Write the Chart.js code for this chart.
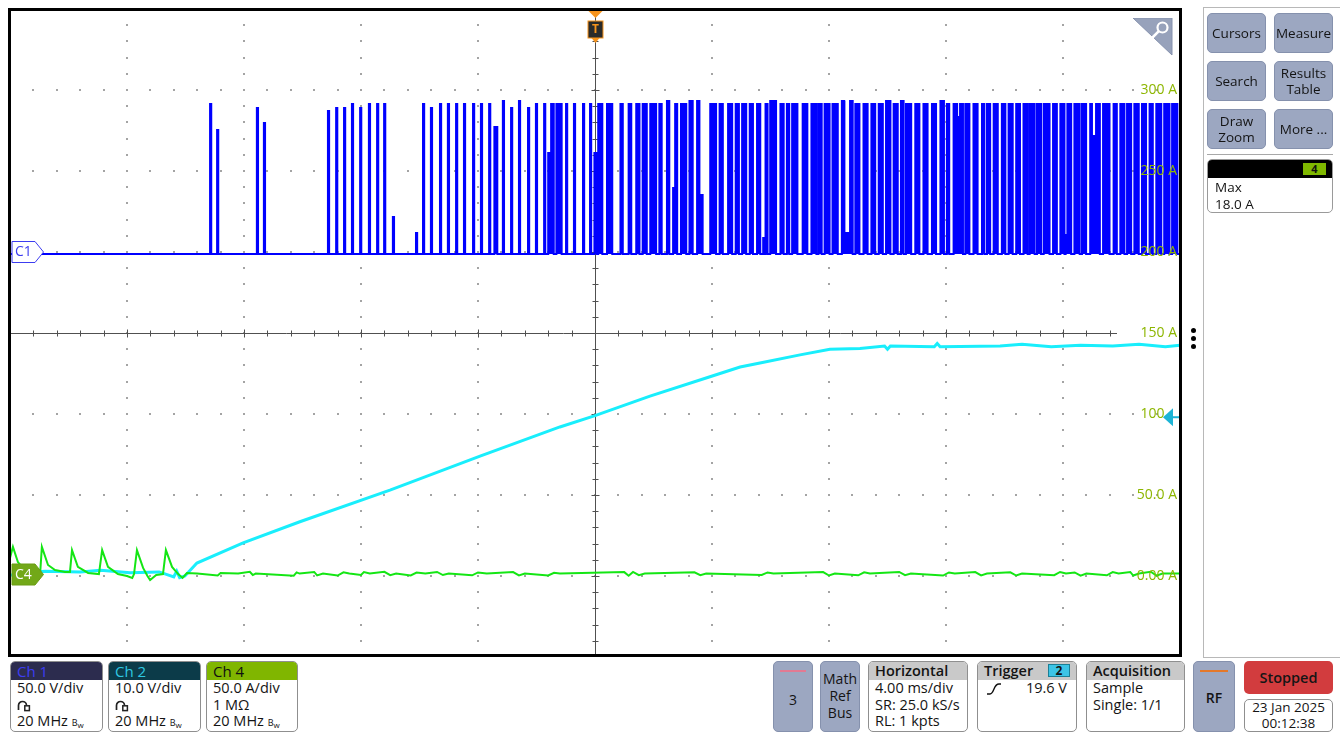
<!DOCTYPE html>
<html>
<head>
<meta charset="utf-8">
<title>Scope capture</title>
<script src="https://cdn.jsdelivr.net/npm/chart.js@4.4.1/dist/chart.umd.min.js"></script>
<style>
html, body { margin: 0; padding: 0; background: #fff; }
body { position: relative; width: 1340px; height: 734px; overflow: hidden;
       font-family: "Open Sans", "Noto Sans", sans-serif; color: #141414; }
#scope { position: absolute; left: 10px; top: 9px; }
#frame { position: absolute; left: 8px; top: 8px; width: 1174px; height: 649px;
         box-sizing: border-box; border: 3px solid #000; pointer-events: none; }
.abs { position: absolute; }
#side { left: 1203px; top: 7px; width: 137px; height: 651px; box-sizing: border-box;
        border: 1px solid #b8b8b8; border-right: none; }
.btn { position: absolute; box-sizing: border-box; background: #9ca7c1; border: 1px solid #8591ad;
       border-radius: 5px; display: flex; align-items: center; justify-content: center;
       text-align: center; font-size: 13.5px; line-height: 16px; color: #141414; }
.meas { left: 1207px; top: 159px; width: 126px; height: 54px; box-sizing: border-box;
        border: 1px solid #9a9a9a; border-radius: 5px; overflow: hidden; background: #fff; }
.meas .hd { height: 18px; background: #000; position: relative; }
.meas .tag { position: absolute; right: 6px; top: 3px; width: 23px; height: 12px; background: #7fb800;
             font-size: 11px; line-height: 12px; font-weight: 700; text-align: center; color: #111; }
.meas .ln { font-size: 13.5px; line-height: 17px; padding-left: 7px; }
.cbox { position: absolute; top: 661px; height: 71px; box-sizing: border-box; border: 1px solid #8f8f8f;
        border-radius: 5px; overflow: hidden; background: #fff; }
.cbox .hd { height: 18px; font-size: 15px; line-height: 18px; padding-left: 6px; position: relative; }
.cbox .ln { font-size: 14.5px; line-height: 16.5px; padding-left: 6px; white-space: nowrap; height: 16.5px; }
.gray { background: #c9c9c9; color: #141414; font-weight: 600; font-size: 14.5px !important; }
.bw { font-size: 9px; }
.bw sub { font-size: 8px; vertical-align: -2px; }
.tile { position: absolute; top: 661px; height: 71px; box-sizing: border-box; background: #9ca7c1;
        border: 1px solid #8591ad; border-radius: 5px; text-align: center; font-size: 14px; color: #141414; }
.tile .bar { position: absolute; left: 6px; right: 6px; top: 8px; height: 2px; }
.dot { position: absolute; width: 5px; height: 5px; border-radius: 50%; background: #000; left: 1191px; }
</style>
</head>
<body>
<canvas id="scope" width="1170" height="648"></canvas>
<div id="frame"></div>

<!-- zoom handle in the upper right corner of the graticule -->
<svg class="abs" style="left:1133px;top:18px" width="40" height="38">
  <polygon points="0,0 39,0 39,37" fill="#97a2bb" stroke="#8591ad" stroke-width="1"/>
  <circle cx="29.5" cy="9.5" r="5" fill="none" stroke="#fff" stroke-width="2.2"/>
  <line x1="25.8" y1="13.2" x2="19" y2="20" stroke="#fff" stroke-width="2.6"/>
</svg>

<div class="dot" style="top:328px"></div>
<div class="dot" style="top:336px"></div>
<div class="dot" style="top:344px"></div>

<!-- side panel -->
<div id="side" class="abs"></div>
<div class="btn" style="left:1207px;top:13px;width:59px;height:40px">Cursors</div>
<div class="btn" style="left:1274px;top:13px;width:59px;height:40px">Measure</div>
<div class="btn" style="left:1207px;top:61px;width:59px;height:40px">Search</div>
<div class="btn" style="left:1274px;top:61px;width:59px;height:40px">Results<br>Table</div>
<div class="btn" style="left:1207px;top:109px;width:59px;height:40px">Draw<br>Zoom</div>
<div class="btn" style="left:1274px;top:109px;width:59px;height:40px">More ...</div>
<div class="abs" style="left:1207px;top:154px;width:126px;height:1px;background:#a8a8a8"></div>
<div class="abs meas">
  <div class="hd"><div class="tag">4</div></div>
  <div class="ln" style="margin-top:1px">Max</div>
  <div class="ln">18.0 A</div>
</div>

<!-- channel badges -->
<div class="cbox" style="left:10px;width:93px">
  <div class="hd" style="background:#2c2c4e;color:#3d3df2">Ch 1</div>
  <div class="ln">50.0 V/div</div>
  <div class="ln"><svg width="14" height="13" style="vertical-align:-2px"><path d="M1.5 11 V6.5 A4 4 0 0 1 9.5 6.5" fill="none" stroke="#222" stroke-width="1.7"/><rect x="7.8" y="6.8" width="4.6" height="4.8" fill="none" stroke="#222" stroke-width="1.5"/></svg></div>
  <div class="ln">20 MHz <span class="bw">B<sub>w</sub></span></div>
</div>
<div class="cbox" style="left:108px;width:93px">
  <div class="hd" style="background:#0c3b49;color:#2ec8e2">Ch 2</div>
  <div class="ln">10.0 V/div</div>
  <div class="ln"><svg width="14" height="13" style="vertical-align:-2px"><path d="M1.5 11 V6.5 A4 4 0 0 1 9.5 6.5" fill="none" stroke="#222" stroke-width="1.7"/><rect x="7.8" y="6.8" width="4.6" height="4.8" fill="none" stroke="#222" stroke-width="1.5"/></svg></div>
  <div class="ln">20 MHz <span class="bw">B<sub>w</sub></span></div>
</div>
<div class="cbox" style="left:206px;width:92px">
  <div class="hd" style="background:#80b600;color:#111">Ch 4</div>
  <div class="ln">50.0 A/div</div>
  <div class="ln">1 MΩ</div>
  <div class="ln">20 MHz <span class="bw">B<sub>w</sub></span></div>
</div>

<div class="tile" style="left:773px;width:40px"><div class="bar" style="background:#e27a93"></div><div style="margin-top:28px">3</div></div>
<div class="tile" style="left:820px;width:40px;line-height:17px"><div style="margin-top:8px">Math<br>Ref<br>Bus</div></div>
<div class="cbox" style="left:868px;width:100px">
  <div class="hd gray">Horizontal</div>
  <div class="ln">4.00 ms/div</div>
  <div class="ln">SR: 25.0 kS/s</div>
  <div class="ln">RL: 1 kpts</div>
</div>
<div class="cbox" style="left:977px;width:100px">
  <div class="hd gray">Trigger<div style="position:absolute;left:70px;top:2px;width:22px;height:13px;box-sizing:border-box;background:#3cc4e6;border:1px solid #1b7f96;font-size:12px;line-height:11px;text-align:center;font-weight:700">2</div></div>
  <div class="ln" style="position:relative"><svg width="16" height="14" style="position:absolute;left:8px;top:2px"><path d="M1 12 L4 12 Q6 12 8 7 Q10 2 13 2 L15 2" fill="none" stroke="#111" stroke-width="1.4"/></svg><span style="position:absolute;right:9px">19.6 V</span></div>
</div>
<div class="cbox" style="left:1086px;width:99px">
  <div class="hd gray">Acquisition</div>
  <div class="ln">Sample</div>
  <div class="ln">Single: 1/1</div>
</div>
<div class="tile" style="left:1193px;width:42px"><div class="bar" style="background:#e4782a"></div><div style="margin-top:26px;font-weight:600">RF</div></div>
<div class="abs" style="left:1244px;top:661px;width:89px;height:33px;background:#d23c3e;border-radius:5px;text-align:center;line-height:33px;font-size:14.5px;font-weight:600;color:#151515">Stopped</div>
<div class="abs" style="left:1244px;top:699px;width:89px;height:33px;box-sizing:border-box;border:1px solid #8f8f8f;border-radius:5px;text-align:center;font-size:13.5px;line-height:15.5px;padding-top:0px">23 Jan 2025<br>00:12:38</div>

<script>
// timebase: 4 ms/div, 10 divisions, trigger in the middle
const timeRangeMs = [-20, 20];
const msPerDiv = 4;

// channel vertical settings (units per division, ground position in divisions from centre)
const ch1PerDiv = 50, ch1PosDiv = 1;    // V
const ch2PerDiv = 10, ch2PosDiv = -3;   // V
const ch4PerDiv = 50, ch4PosDiv = -3;   // A
const triggerLevelV = 19.6;             // on Ch2

// Ch4 scale labels on the right edge
const ch4TickValues = [300, 250, 200, 150, 100, 50, 0];
const ch4TickLabels = ['300 A', '250 A', '200 A', '150 A', '100', '50.0 A', '0.00 A'];

// Ch1 gate pulses: [start ms, width ms, peak V], baseline ch1BaseV
const ch1BaseV = -1.2;
const c1Pulses = [
  [-13.16, 0.04, 91.4], [-12.92, 0.04, 75.3], [-11.56, 0.04, 88.9], [-11.32, 0.04, 79.6],
  [-9.13, 0.04, 87.0], [-8.85, 0.04, 88.9], [-8.58, 0.04, 88.9], [-8.31, 0.04, 91.4],
  [-8.03, 0.04, 88.9], [-7.73, 0.04, 91.4], [-7.45, 0.04, 91.4], [-7.21, 0.04, 91.4],
  [-6.91, 0.04, 21.6], [-6.12, 0.04, 11.7], [-5.88, 0.04, 91.4], [-5.61, 0.04, 88.9],
  [-5.30, 0.04, 91.4], [-5.03, 0.04, 91.4], [-4.75, 0.04, 91.4], [-4.48, 0.04, 91.4],
  [-4.17, 0.04, 91.4], [-3.90, 0.04, 91.4], [-3.62, 0.04, 91.4], [-3.44, 0.10, 77.2],
  [-3.15, 0.04, 93.2], [-2.87, 0.04, 88.9], [-2.60, 0.04, 93.2], [-2.29, 0.04, 88.9],
  [-2.02, 0.04, 91.4], [-1.74, 0.04, 91.4], [-1.60, 0.10, 61.1], [-1.50, 0.09, 91.4],
  [-1.32, 0.18, 91.4], [-0.99, 0.04, 91.4], [-0.72, 0.04, 91.4], [-0.41, 0.04, 91.4],
  [-0.17, 0.04, 91.4], [-0.02, 0.09, 61.1],
  [0.11, 0.14, 91.4], [0.41, 0.18, 91.4], [0.87, 0.08, 91.4], [1.15, 0.09, 91.4],
  [1.41, 0.11, 91.4], [1.63, 0.14, 91.4], [1.89, 0.20, 91.4], [2.20, 0.08, 91.4],
  [2.46, 0.08, 93.2], [2.67, 0.07, 39.5], [2.74, 0.07, 91.4], [2.94, 0.18, 91.4],
  [3.23, 0.11, 93.2], [3.49, 0.08, 93.2], [3.57, 0.11, 35.2], [3.94, 0.20, 91.4],
  [4.26, 0.11, 91.4], [4.55, 0.14, 91.4], [4.81, 0.11, 91.4], [5.03, 0.14, 91.4],
  [5.29, 0.11, 91.4], [5.54, 0.11, 91.4], [5.75, 0.06, 8.6], [5.83, 0.07, 91.4],
  [5.99, 0.20, 93.2], [6.34, 0.11, 91.4], [6.56, 0.08, 91.4], [6.74, 0.18, 91.4],
  [7.10, 0.16, 91.4], [7.40, 0.17, 91.4], [7.64, 0.11, 91.4], [7.85, 0.17, 91.4],
  [8.12, 0.18, 91.4], [8.44, 0.08, 93.2], [8.53, 0.19, 11.7], [8.72, 0.09, 93.2],
  [8.90, 0.14, 91.4], [9.18, 0.14, 91.4], [9.45, 0.13, 91.4], [9.70, 0.14, 91.4],
  [9.95, 0.15, 93.2], [10.21, 0.14, 91.4], [10.46, 0.09, 93.2], [10.63, 0.18, 91.4],
  [10.95, 0.14, 91.4], [11.23, 0.14, 91.4], [11.52, 0.14, 91.4], [11.81, 0.12, 93.2],
  [12.03, 0.08, 91.4], [12.26, 0.12, 91.4], [12.38, 0.10, 83.3], [12.48, 0.10, 91.4],
  [12.66, 0.14, 91.4], [12.94, 0.14, 91.4], [13.23, 0.08, 91.4], [13.40, 0.11, 91.4],
  [13.63, 0.14, 91.4], [13.91, 0.12, 91.4], [14.14, 0.14, 91.4], [14.40, 0.13, 91.4],
  [14.65, 0.14, 91.4], [14.86, 0.17, 91.4], [15.11, 0.14, 91.4], [15.34, 0.20, 91.4],
  [15.66, 0.13, 91.4], [15.91, 0.14, 91.4], [16.09, 0.06, 10.5], [16.15, 0.13, 91.4],
  [16.39, 0.18, 91.4], [16.65, 0.14, 91.4], [16.93, 0.06, 91.4], [16.99, 0.14, 71.6],
  [17.13, 0.13, 91.4], [17.37, 0.22, 91.4], [17.73, 0.11, 91.4], [17.96, 0.14, 91.4],
  [18.19, 0.14, 91.4], [18.44, 0.15, 91.4], [18.70, 0.14, 91.4], [18.96, 0.11, 91.4],
  [19.19, 0.17, 91.4], [19.46, 0.18, 91.4], [19.73, 0.18, 91.4]
];

// Ch2 ramp: [ms, V]
const c2Trace = [
  [-20.0, 0.1], [-19.5, 0.4], [-18.8, 0.6], [-17.6, 0.5], [-16.9, 0.7], [-15.9, 0.4],
  [-14.9, 0.5], [-14.4, -0.1], [-14.3, 0.6], [-14.2, -0.2], [-14.02, 0.0],
  [-13.61, 1.6], [-12.03, 4.1], [-10.09, 6.7], [-7.01, 10.6], [-3.93, 14.8], [-1.20, 18.4],
  [0.0, 19.8], [1.88, 22.2], [3.93, 24.6], [4.96, 25.8], [5.64, 26.3], [7.01, 27.3],
  [8.03, 28.0], [9.06, 28.1], [9.9, 28.4], [10.0, 28.0], [10.1, 28.4], [11.6, 28.3],
  [11.7, 28.7], [11.8, 28.3], [13.85, 28.4], [14.6, 28.6], [15.6, 28.3], [16.6, 28.5],
  [17.7, 28.4], [18.6, 28.6], [19.5, 28.3], [20.0, 28.5]
];

// Ch4 current: [ms, A]
const c4Trace = [
  [-20.00, 11.1], [-19.90, 18.0], [-19.73, 8.6], [-19.49, 3.7], [-19.15, 1.2], [-18.97, 1.5],
  [-18.91, 18.0], [-18.70, 6.8], [-18.46, 3.7], [-18.12, 2.5], [-17.95, 2.5],
  [-17.88, 16.0], [-17.68, 5.6], [-17.33, 1.9], [-16.96, 1.2],
  [-16.85, 16.0], [-16.65, 5.6], [-16.31, 1.2], [-16.00, 0.0], [-15.82, -1.2], [-15.76, 1.2],
  [-15.66, 16.0], [-15.45, 5.0], [-15.30, 0.0], [-15.21, -2.5], [-15.00, 0.6], [-14.77, 1.2],
  [-14.67, 16.0], [-14.46, 5.6], [-14.25, 1.2], [-14.10, -1.2], [-13.95, 1.9],
  [-13.6, 1.5], [-12.9, 0.3], [-12.8, 1.9], [-12.2, 1.5], [-11.8, 2.6], [-11.7, 0.6],
  [-11.6, 1.5], [-10.3, 0.2], [-10.2, 2.2], [-10.1, 1.5], [-9.6, 2.5], [-9.5, 0.4],
  [-9.3, 1.5], [-8.8, 0.3], [-8.6, 2.3], [-8.4, 1.5], [-8.0, 0.6], [-7.9, 2.4],
  [-7.7, 1.5], [-7.2, 2.6], [-7.0, 0.5], [-6.8, 1.5], [-6.3, 0.3], [-6.1, 2.1],
  [-5.8, 1.5], [-5.4, 2.5], [-5.2, 0.6], [-5.0, 1.5], [-4.2, 0.4], [-4.0, 2.2],
  [-3.7, 1.5], [-2.8, 2.4], [-2.6, 0.4], [-2.4, 1.5], [-1.6, 0.3], [-1.4, 2.0],
  [-1.2, 1.5], [1.0, 2.4], [1.15, 0.2], [1.3, 2.5], [1.5, 0.5], [1.7, 1.5],
  [3.4, 2.3], [3.6, 0.5], [3.8, 1.5], [5.7, 0.6], [5.9, 2.2], [6.1, 1.5],
  [7.8, 2.4], [8.0, 0.3], [8.2, 1.5], [9.0, 0.4], [9.2, 2.3], [9.4, 1.5],
  [10.4, 2.5], [10.6, 0.5], [10.8, 1.5], [11.9, 0.3], [12.1, 2.2], [12.3, 1.5],
  [13.0, 2.4], [13.2, 0.4], [13.4, 1.5], [14.2, 2.3], [14.4, 0.3], [14.6, 1.5],
  [15.7, 0.5], [15.9, 2.5], [16.1, 1.5], [16.4, 2.2], [16.6, 0.2], [16.8, 1.5],
  [17.5, 0.4], [17.7, 2.4], [17.9, 1.5], [18.3, 2.5], [18.4, 0.3], [18.6, 1.5],
  [19.0, 2.6], [19.2, 0.2], [19.4, 1.5], [20.0, 1.5]
];

// everything is plotted in screen divisions
const toDiv = (v, perDiv, pos) => pos + v / perDiv;

const ch1Points = [{ x: timeRangeMs[0], y: toDiv(ch1BaseV, ch1PerDiv, ch1PosDiv) }];
c1Pulses.forEach(([t0, w, peak]) => {
  const lo = toDiv(ch1BaseV, ch1PerDiv, ch1PosDiv);
  const hi = toDiv(peak, ch1PerDiv, ch1PosDiv);
  ch1Points.push({ x: t0, y: lo }, { x: t0, y: hi }, { x: t0 + w, y: hi }, { x: t0 + w, y: lo });
});
ch1Points.push({ x: timeRangeMs[1], y: toDiv(ch1BaseV, ch1PerDiv, ch1PosDiv) });

const ch2Points = c2Trace.map(([t, v]) => ({ x: t, y: toDiv(v, ch2PerDiv, ch2PosDiv) }));
const ch4Points = c4Trace.map(([t, a]) => ({ x: t, y: toDiv(a, ch4PerDiv, ch4PosDiv) }));

function badge(ctx, yc, fill, stroke, text, textColor) {
  ctx.beginPath();
  ctx.moveTo(2, yc - 10.5);
  ctx.lineTo(25, yc - 10.5);
  ctx.lineTo(33.5, yc);
  ctx.lineTo(25, yc + 10.5);
  ctx.lineTo(2, yc + 10.5);
  ctx.closePath();
  ctx.fillStyle = fill;
  ctx.fill();
  ctx.strokeStyle = stroke;
  ctx.lineWidth = 1;
  ctx.stroke();
  ctx.fillStyle = textColor;
  ctx.font = '14px "Open Sans"';
  ctx.textAlign = 'left';
  ctx.textBaseline = 'middle';
  ctx.fillText(text, 5, yc + 0.5);
}

// graticule, centre cross, markers and the Ch4 scale
const scopeOverlay = {
  id: 'scopeOverlay',
  beforeDatasetsDraw(chart) {
    const { ctx, chartArea: a, scales: { x, y } } = chart;
    ctx.save();
    ctx.fillStyle = '#a4a4a4';
    for (let d = -5; d <= 5; d++) {
      if (d === 0) continue;
      const px = Math.round(x.getPixelForValue(d * msPerDiv));
      for (let k = -20; k <= 20; k++) {
        const py = Math.round(y.getPixelForValue(k / 5));
        ctx.fillRect(px - 1, py - 1, 2, 2);
      }
    }
    for (let d = -4; d <= 4; d++) {
      if (d === 0) continue;
      const py = Math.round(y.getPixelForValue(d));
      for (let k = -25; k <= 25; k++) {
        const px = Math.round(x.getPixelForValue(k * msPerDiv / 5));
        ctx.fillRect(px - 1, py - 1, 2, 2);
      }
    }
    const cx = Math.round(x.getPixelForValue(0)) + 0.5;
    const cy = Math.round(y.getPixelForValue(0)) + 0.5;
    const axisEnd = a.right - 63;
    ctx.strokeStyle = '#505050';
    ctx.lineWidth = 1;
    ctx.beginPath();
    ctx.moveTo(a.left, cy);
    ctx.lineTo(axisEnd, cy);
    ctx.moveTo(cx, a.top);
    ctx.lineTo(cx, a.bottom);
    for (let k = -25; k <= 25; k++) {
      const px = Math.round(x.getPixelForValue(k * msPerDiv / 5)) + 0.5;
      if (px > axisEnd) break;
      const len = k % 5 === 0 ? 4 : 3;
      ctx.moveTo(px, cy - len);
      ctx.lineTo(px, cy + len);
    }
    for (let k = -20; k <= 20; k++) {
      const py = Math.round(y.getPixelForValue(k / 5)) + 0.5;
      const len = k % 5 === 0 ? 4 : 3;
      ctx.moveTo(cx - len, py);
      ctx.lineTo(cx + len, py);
    }
    ctx.stroke();
    ctx.restore();
  },
  afterDatasetsDraw(chart) {
    const { ctx, chartArea: a, scales: { x, y } } = chart;
    ctx.save();

    // Ch4 scale, right aligned inside the graticule
    ctx.font = '14px "Open Sans"';
    ctx.fillStyle = '#8db600';
    ctx.textAlign = 'right';
    ctx.textBaseline = 'middle';
    const unitW = ctx.measureText(' A').width;
    ch4TickValues.forEach((v, i) => {
      const label = ch4TickLabels[i];
      const py = y.getPixelForValue(toDiv(v, ch4PerDiv, ch4PosDiv));
      const px = a.right - 3 - (label.endsWith('A') ? 0 : unitW);
      ctx.fillText(label, px, py + 0.5);
    });

    // trigger level arrow (Ch2)
    const ty = y.getPixelForValue(toDiv(triggerLevelV, ch2PerDiv, ch2PosDiv));
    ctx.fillStyle = '#1cb4d6';
    ctx.beginPath();
    ctx.moveTo(a.right - 17, ty);
    ctx.lineTo(a.right - 7, ty - 9);
    ctx.lineTo(a.right - 7, ty + 9);
    ctx.closePath();
    ctx.fill();
    ctx.fillRect(a.right - 8, ty - 1, 8, 2);

    // channel ground markers
    badge(ctx, y.getPixelForValue(ch1PosDiv), '#ffffff', '#3c3cf0', 'C1', '#3c3cf0');
    badge(ctx, y.getPixelForValue(ch4PosDiv) - 1.5, '#72a818', '#6a9c14', 'C4', '#ffffff');

    // trigger position marker
    const tx = Math.round(x.getPixelForValue(0)) + 0.5;
    ctx.fillStyle = '#f7941d';
    ctx.beginPath();
    ctx.moveTo(tx - 8, a.top + 1);
    ctx.lineTo(tx + 8, a.top + 1);
    ctx.lineTo(tx, a.top + 9);
    ctx.closePath();
    ctx.fill();
    ctx.beginPath();
    ctx.moveTo(tx - 4, a.top + 29);
    ctx.lineTo(tx + 4, a.top + 29);
    ctx.lineTo(tx, a.top + 34);
    ctx.closePath();
    ctx.fill();
    ctx.fillStyle = '#2a2a2a';
    ctx.fillRect(tx - 7.5, a.top + 12, 15, 17);
    ctx.strokeStyle = '#f7941d';
    ctx.lineWidth = 1;
    ctx.strokeRect(tx - 7.5, a.top + 12, 15, 17);
    ctx.fillStyle = '#f7941d';
    ctx.font = 'bold 12px "Open Sans"';
    ctx.textAlign = 'center';
    ctx.fillText('T', tx, a.top + 21);

    ctx.restore();
  }
};

const ctx = document.getElementById('scope').getContext('2d');
const scopeChart = new Chart(ctx, {
  type: 'line',
  data: {
    datasets: [
      {
        label: 'Ch4',
        data: ch4Points,
        borderColor: '#14e614',
        borderWidth: 2,
        order: 0
      },
      {
        label: 'Ch2',
        data: ch2Points,
        borderColor: '#19eefc',
        borderWidth: 3,
        order: 1
      },
      {
        label: 'Ch1',
        data: ch1Points,
        borderColor: '#0000ff',
        backgroundColor: '#0000ff',
        borderWidth: 2,
        fill: { value: toDiv(ch1BaseV, ch1PerDiv, ch1PosDiv) },
        order: 2
      }
    ]
  },
  options: {
    responsive: false,
    animation: false,
    parsing: false,
    layout: { padding: 0 },
    elements: {
      point: { radius: 0 },
      line: { tension: 0, borderJoinStyle: 'miter' }
    },
    scales: {
      x: { type: 'linear', min: timeRangeMs[0], max: timeRangeMs[1], display: false },
      y: { type: 'linear', min: -4, max: 4, display: false }
    },
    plugins: {
      legend: { display: false },
      tooltip: { enabled: false }
    }
  },
  plugins: [scopeOverlay]
});
</script>
</body>
</html>
